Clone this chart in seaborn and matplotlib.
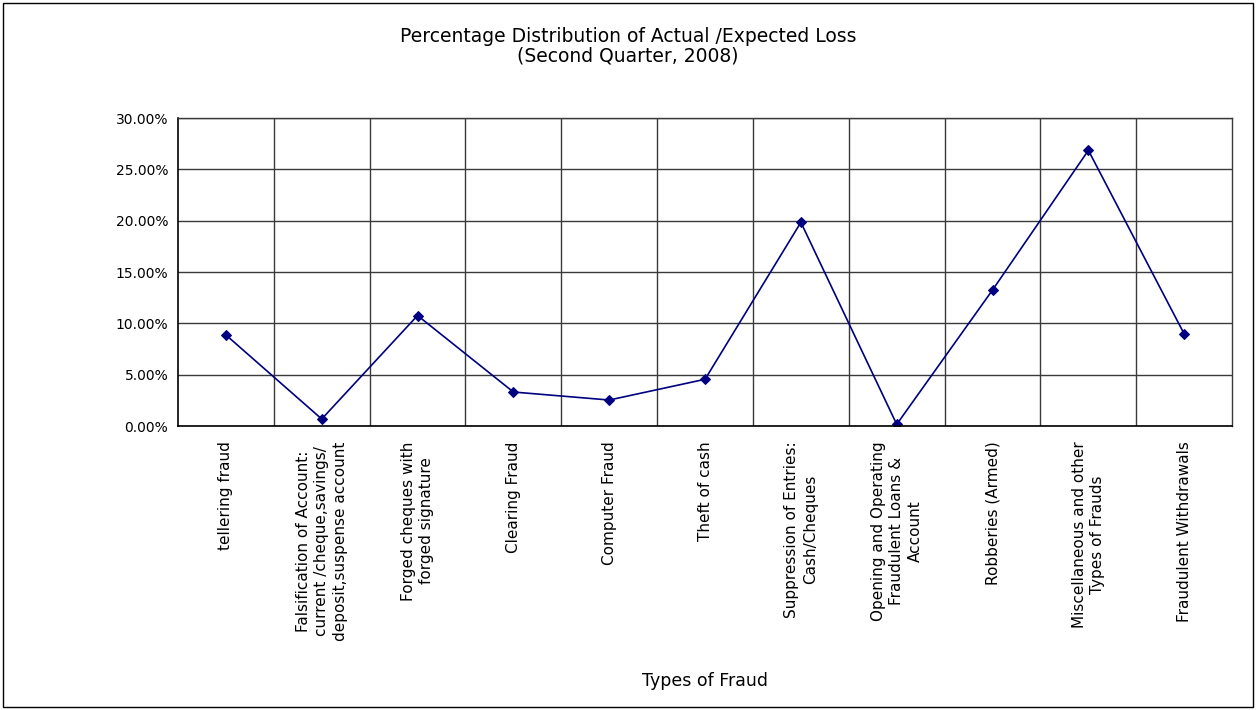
import numpy as np
import pandas as pd
import matplotlib
matplotlib.use("Agg")
import matplotlib.pyplot as plt
import matplotlib.patches as mpatches
from matplotlib.ticker import FuncFormatter, MultipleLocator, FixedLocator
import seaborn as sns

# ------------------------------------------------------------
# Data
# ------------------------------------------------------------
fraud_types = [
    "tellering fraud",
    "Falsification of Account:\ncurrent /cheque,savings/\ndeposit,suspense account",
    "Forged cheques with\nforged signature",
    "Clearing Fraud",
    "Computer Fraud",
    "Theft of cash",
    "Suppression of Entries:\nCash/Cheques",
    "Opening and Operating\nFraudulent Loans &\nAccount",
    "Robberies (Armed)",
    "Miscellaneous and other\nTypes of Frauds",
    "Fraudulent Withdrawals",
]
loss_pct = [8.87, 0.68, 10.76, 3.31, 2.53, 4.55, 19.84, 0.16, 13.25, 26.85, 8.96]

df = pd.DataFrame({"pos": np.arange(len(fraud_types)), "pct": loss_pct})

# ------------------------------------------------------------
# Style
# ------------------------------------------------------------
sns.set_style("white")
plt.rcParams["font.family"] = ["DejaVu Sans"]
plt.rcParams["text.color"] = "black"
plt.rcParams["axes.labelcolor"] = "black"
plt.rcParams["xtick.color"] = "black"
plt.rcParams["ytick.color"] = "black"

NAVY = "#000080"
GRID = "#3a3a3a"

fig = plt.figure(figsize=(12.56, 7.10), dpi=100)
ax = fig.add_axes([0.1417, 0.4, 0.8393, 0.4338])

sns.lineplot(data=df, x="pos", y="pct", ax=ax, color=NAVY, lw=1.2,
             marker="D", markersize=5.5, markeredgecolor=NAVY)

ax.set_xlim(-0.5, len(fraud_types) - 0.5)
ax.set_ylim(0, 30)

# y axis
ax.yaxis.set_major_locator(MultipleLocator(5))
ax.yaxis.set_major_formatter(FuncFormatter(lambda v, _: f"{v:.2f}%"))
ax.tick_params(axis="y", which="major", direction="out", length=5,
               width=1, color="black", labelsize=10, pad=2)
ax.grid(axis="y", which="major", color=GRID, lw=1)

# x axis: labels at categories, gridlines at category boundaries
ax.xaxis.set_major_locator(FixedLocator(df["pos"]))
ax.set_xticklabels(fraud_types, rotation=90, ha="center", va="top",
                   multialignment="center", fontsize=11, linespacing=1.3)
ax.tick_params(axis="x", which="major", length=0, pad=11)
ax.xaxis.set_minor_locator(FixedLocator(np.arange(0.5, len(fraud_types) - 0.5, 1)))
ax.tick_params(axis="x", which="minor", direction="out", length=5,
               width=1, color="black")
ax.grid(axis="x", which="minor", color=GRID, lw=1)
ax.set_axisbelow(True)

for side in ["left", "bottom"]:
    ax.spines[side].set_color("black")
    ax.spines[side].set_linewidth(1.2)
for side in ["top", "right"]:
    ax.spines[side].set_color(GRID)
    ax.spines[side].set_linewidth(1)

ax.set_xlabel("Types of Fraud", fontsize=12.5)
ax.xaxis.set_label_coords(0.5, -0.80)
ax.set_ylabel("")

fig.text(0.5, 1 - 46 / 710,
         "Percentage Distribution of Actual /Expected Loss\n(Second Quarter, 2008)",
         ha="center", va="center", fontsize=13.5, linespacing=1.0)

# outer border like the chart area frame
fig.patches.append(mpatches.Rectangle((0.002, 0.004), 0.996, 0.992,
                                      transform=fig.transFigure, fill=False,
                                      edgecolor="black", lw=1))

fig.savefig("out.png", dpi=100)
